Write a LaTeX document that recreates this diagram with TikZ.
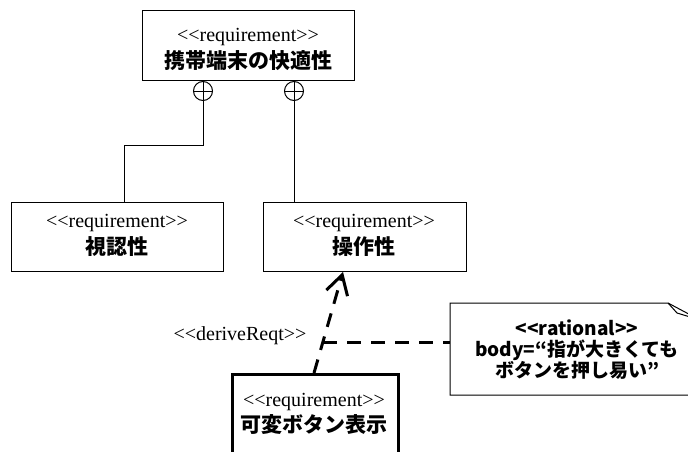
\documentclass[tikz,border=0pt]{standalone}
\usepackage{fontspec}
\setmainfont{Liberation Serif}[Ligatures=TeXOff]
\newfontfamily\jp{Noto Sans CJK JP}[Ligatures=TeXOff]
\usetikzlibrary{arrows.meta}
\begin{document}
\begin{tikzpicture}[x=1pt,y=-1pt,
  reqbox/.style={draw, line width=1pt, anchor=north west, inner sep=0pt, fill=white},
  stereo/.style={font=\fontsize{20}{20}\selectfont, inner sep=0pt},
  jpname/.style={font=\jp\bfseries\fontsize{21}{21}\selectfont, inner sep=0pt},
  contain/.style={circle, draw, line width=1pt, minimum size=19pt, inner sep=0pt},
  thinline/.style={line width=1pt},
  heavydash/.style={line width=3pt, dash pattern=on 14pt off 10pt}
]
\useasboundingbox (0,0) rectangle (688,452);
\clip (0,0) rectangle (688,452);

% boxes
\node[reqbox, minimum width=212pt, minimum height=70pt] (top) at (142,10) {};
\node[stereo] (topS) at (248,37) {<<requirement>>};
\node[jpname] (topN) at (248,61) {携帯端末の快適性};

\node[reqbox, minimum width=212pt, minimum height=69pt] (vis) at (11,202) {};
\node[stereo] (visS) at (117,223) {<<requirement>>};
\node[jpname] (visN) at (117,247) {視認性};

\node[reqbox, minimum width=203pt, minimum height=69pt] (op) at (263,202) {};
\node[stereo] (opS) at (364,223) {<<requirement>>};
\node[jpname] (opN) at (364,247) {操作性};

\node[reqbox, line width=3pt, minimum width=166pt, minimum height=100pt] (var) at (231,373) {};
\node[stereo] (varS) at (314,402) {<<requirement>>};
\node[jpname] (varN) at (314,425) {可変ボタン表示};

% containment
\node[contain] (c1) at (203,91) {};
\node[contain] (c2) at (294,91) {};
\draw[thinline] (c1.north) -- (c1.south) (c1.west) -- (c1.east);
\draw[thinline] (c2.north) -- (c2.south) (c2.west) -- (c2.east);
\coordinate (bend1) at (203,145);
\coordinate (visTop) at (124,202);
\draw[thinline] (c1.south) -- (bend1) -| (visTop);
\draw[thinline] (c2.south) -- (c2.south |- op.north);

% deriveReqt
\coordinate (dStart) at (314,373);
\coordinate (dEnd) at (343,272);
\draw[heavydash, -{Straight Barb[length=19pt, width=22pt, line width=3pt]}] (dStart) -- (dEnd);
\node[stereo] (dlbl) at (240,336) {<<deriveReqt>>};

% note
\draw[thinline, fill=white] (450,303) -- (668,303) -- (700,320) -- (700,395) -- (450,395) -- cycle;
\draw[thinline] (668,303) -- (677,313) -- (700,320);
\coordinate (noteW) at (450,342);
\coordinate (junc) at (323,342);
\node[font=\jp\bfseries\fontsize{19}{21}\selectfont, align=center, inner sep=0pt] (noteT) at (577,350)
  {<<rational>>\\body=“指が大きくても\\ボタンを押し易い”};
\draw[heavydash] (junc) -- (noteW);
\end{tikzpicture}
\end{document}
